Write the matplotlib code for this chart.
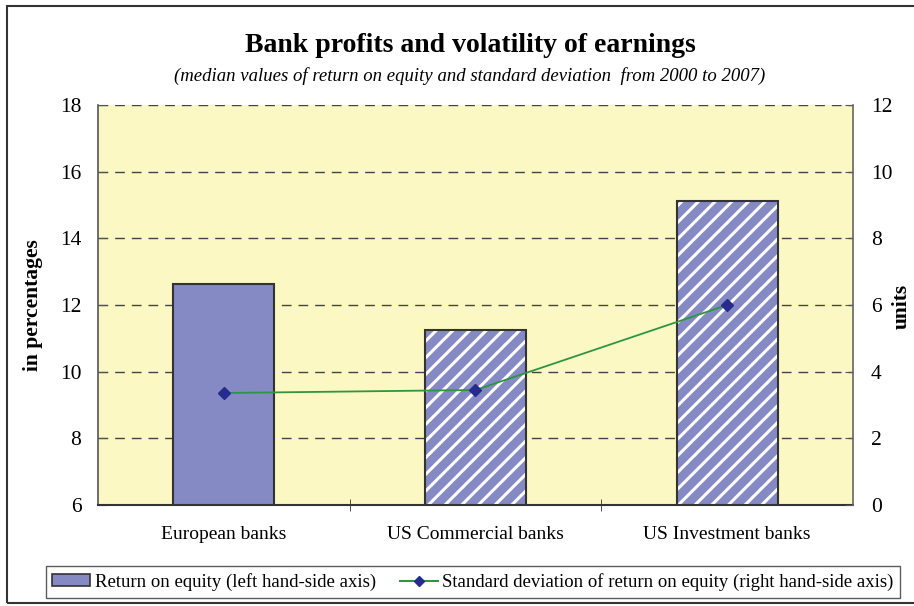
import matplotlib.pyplot as plt
from matplotlib.patches import Rectangle
from matplotlib.lines import Line2D

plt.rcParams['font.family'] = ['Liberation Serif', 'DejaVu Serif']
plt.rcParams['hatch.linewidth'] = 2.2

categories = ['European banks', 'US Commercial banks', 'US Investment banks']
roe = [12.63, 11.25, 15.12]
std_dev = [3.36, 3.45, 6.0]

bar_col = '#8589C4'
bg_col = '#FCF8C4'
line_col = '#2E9640'
mark_col = '#262C8C'

fig = plt.figure(figsize=(9.14, 6.06), dpi=100)
ax = fig.add_axes([98/914, 1-505/606, 755/914, 400/606])
ax.set_facecolor(bg_col)

x = list(range(len(categories)))
# solid bar for europe, striped bars for US
ax.bar(x[0], roe[0], width=0.4, bottom=0, color=bar_col, edgecolor='#333333', linewidth=1.5, zorder=2)
ax.bar(x[1:], roe[1:], width=0.4, color=bar_col, edgecolor='white', hatch='//', linewidth=0, zorder=2)
ax.bar(x[1:], roe[1:], width=0.4, fill=False, edgecolor='#333333', linewidth=1.5, zorder=3)

ax.set_ylim(6, 18)
ax.set_xlim(-0.5, 2.5)
ax.set_yticks(range(6, 19, 2))
ax.set_xticks(x)
ax.set_xticklabels(categories, fontsize=14)
ax.set_xticks([0.5, 1.5], minor=True)
ax.tick_params(axis='x', which='major', length=0, pad=15)
ax.tick_params(axis='x', which='minor', length=8, direction='inout', color='#333333')
ax.tick_params(axis='y', labelsize=15.5, length=6, direction='in', color='#555555', pad=12)
ax.yaxis.grid(True, linestyle=(0, (7, 5)), color='#444444', linewidth=1)
ax.set_axisbelow(True)
ax.spines['top'].set_visible(False)
ax.spines['right'].set_visible(False)
ax.spines['left'].set_color('#555555')
ax.spines['bottom'].set_color('#333333')
ax.spines['left'].set_linewidth(1.2)
ax.spines['bottom'].set_linewidth(1.5)
ax.set_ylabel('in percentages', fontsize=15.5, fontweight='bold', labelpad=12)

ax2 = ax.twinx()
ax2.plot(x, std_dev, color=line_col, linewidth=1.3, marker='D', markersize=6,
         markerfacecolor=mark_col, markeredgecolor=mark_col, zorder=4)
ax2.set_ylim(0, 12)
ax2.set_yticks(range(0, 13, 2))
ax2.tick_params(axis='y', labelsize=15.5, length=6, direction='in', color='#555555', pad=13)
for s in ['top', 'left', 'bottom']:
    ax2.spines[s].set_visible(False)
ax2.spines['right'].set_color('#666666')
ax2.spines['right'].set_linewidth(1.2)
fig.text(912/914, 300/606, 'units', rotation=90, fontsize=15.5, fontweight='bold',
         ha='right', va='center')

fig.text(470/914, 1-45/606, 'Bank profits and volatility of earnings', fontsize=20,
         fontweight='bold', ha='center', va='center')
fig.text(470/914, 1-76/606, '(median values of return on equity and standard deviation  from 2000 to 2007)',
         fontsize=13.5, style='italic', ha='center', va='center')

# outer frame
fig.patches.append(Rectangle((7/914, 3/606), 910/914, 597/606, transform=fig.transFigure,
                             fill=False, edgecolor='#333333', linewidth=1.5))

handles = [Rectangle((0, 0), 1, 1, facecolor=bar_col, edgecolor='#333333', linewidth=1.2),
           Line2D([], [], color=line_col, marker='D', markersize=5,
                  markerfacecolor=mark_col, markeredgecolor=mark_col)]
leg = fig.legend(handles, ['Return on equity (left hand-side axis)',
                           'Standard deviation of return on equity (right hand-side axis)'],
                 loc='center', bbox_to_anchor=(473/914, 1-582/606), ncol=2, fontsize=13.5,
                 frameon=True, fancybox=False, edgecolor='#333333', handlelength=2.0,
                 handleheight=0.6, handletextpad=0.25, columnspacing=1.3, borderpad=0.35)
leg.get_frame().set_linewidth(1)

fig.savefig('out.png', dpi=100)
